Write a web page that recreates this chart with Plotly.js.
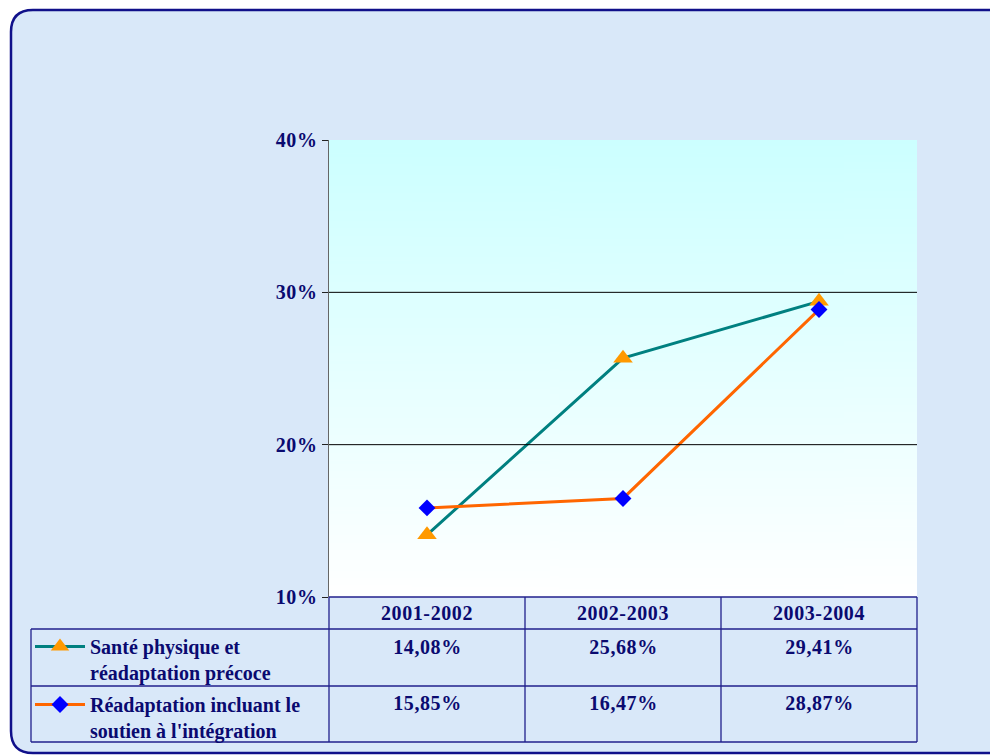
<!DOCTYPE html>
<html><head><meta charset="utf-8">
<script src="https://cdn.plot.ly/plotly-3.0.1.min.js"></script>
<style>html,body{margin:0;padding:0;background:#fff}#chart{width:990px;height:755px}
#chart svg text{letter-spacing:0.6px;word-spacing:2px}
#chart svg .legend text{letter-spacing:0;word-spacing:0}</style>
</head><body><div id="chart"></div>
<script>
const categories = ['2001-2002', '2002-2003', '2003-2004'];
const seriesNames = ['Santé physique et<br>réadaptation précoce', 'Réadaptation incluant le<br>soutien à l\'intégration'];
const santeValues = [14.08, 25.68, 29.41];
const readaptValues = [15.85, 16.47, 28.87];
const yTickVals = [0.10, 0.20, 0.30, 0.40];

const W = 990, H = 755;
const FONT = 'Liberation Serif, Times New Roman, serif';
const NAVY = '#0a0a70';
const LINE = '#20208c';
const FS = 20;
const px = x => x / W;
const py = y => 1 - y / H;

// plot area in pixels
const L = 329, R = 917, T = 140, B = 597;
const row1 = 629, row2 = 686, row3 = 742, tableLeft = 31;

// gradient image for plot background
const cv = document.createElement('canvas');
cv.width = 4; cv.height = 256;
const ctx = cv.getContext('2d');
const g = ctx.createLinearGradient(0, 0, 0, 256);
g.addColorStop(0, '#ccffff'); g.addColorStop(1, '#ffffff');
ctx.fillStyle = g; ctx.fillRect(0, 0, 4, 256);
const gradURL = cv.toDataURL();

const fmt = v => v.toFixed(2).replace('.', ',') + '%';

const traces = [
  {x: categories, y: santeValues.map(v => v / 100), name: seriesNames[0], type: 'scatter', mode: 'lines+markers',
   line: {color: '#008080', width: 3}, marker: {symbol: 'triangle-up', size: 17, color: '#ff9900'}, legendgroup: 'a'},
  {x: categories, y: readaptValues.map(v => v / 100), name: seriesNames[1], type: 'scatter', mode: 'lines+markers',
   line: {color: '#ff6600', width: 3}, marker: {symbol: 'diamond', size: 13, color: '#0000ff'}, legendgroup: 'b'}
];

const shapes = [];
// outer rounded frame
const fx0 = 11, fy0 = 10, fx1 = 1010, fy1 = 753, r = 22;
shapes.push({type: 'path', xref: 'paper', yref: 'paper', layer: 'below',
  path: `M${px(fx0 + r)},${py(fy0)} L${px(fx1 - r)},${py(fy0)} Q${px(fx1)},${py(fy0)} ${px(fx1)},${py(fy0 + r)} L${px(fx1)},${py(fy1 - r)} Q${px(fx1)},${py(fy1)} ${px(fx1 - r)},${py(fy1)} L${px(fx0 + r)},${py(fy1)} Q${px(fx0)},${py(fy1)} ${px(fx0)},${py(fy1 - r)} L${px(fx0)},${py(fy0 + r)} Q${px(fx0)},${py(fy0)} ${px(fx0 + r)},${py(fy0)} Z`,
  fillcolor: '#d9e8f9', line: {color: '#10108a', width: 2.5}});
// grid lines
[0.2, 0.3].forEach(v => shapes.push({type: 'line', xref: 'x domain', yref: 'y', x0: 0, x1: 1, y0: v, y1: v, line: {color: '#000000', width: 1}}));
// table lines
[row1, row2, row3].forEach(y => shapes.push({type: 'line', xref: 'paper', yref: 'paper', x0: px(tableLeft), x1: px(R), y0: py(y), y1: py(y), line: {color: LINE, width: 1.3}}));
[L, 525, 721, R].forEach(x => shapes.push({type: 'line', xref: 'paper', yref: 'paper', x0: px(x), x1: px(x), y0: py(B), y1: py(row3), line: {color: LINE, width: 1.3}}));
shapes.push({type: 'line', xref: 'paper', yref: 'paper', x0: px(tableLeft), x1: px(tableLeft), y0: py(row1), y1: py(row3), line: {color: LINE, width: 1.3}});
shapes.push({type: 'line', xref: 'paper', yref: 'paper', x0: px(L), x1: px(R), y0: py(B), y1: py(B), line: {color: LINE, width: 1.3}});

const annotations = [];
[santeValues, readaptValues].forEach((arr, i) => {
  arr.forEach((v, j) => annotations.push({xref: 'x', yref: 'paper', x: categories[j], y: py(i === 0 ? 647 : 703),
    xanchor: 'center', yanchor: 'middle',
    text: fmt(v), showarrow: false, font: {family: FONT, size: FS, color: NAVY, weight: 'bold'}}));
});

const layout = {
  width: W, height: H,
  margin: {l: 0, r: 0, t: 0, b: 0, autoexpand: false},
  paper_bgcolor: '#ffffff', plot_bgcolor: 'rgba(0,0,0,0)',
  font: {family: FONT, color: NAVY},
  xaxis: {domain: [px(L), px(R)], type: 'category', range: [-0.5, 2.5], showgrid: false, zeroline: false,
    showline: false, ticks: '', tickfont: {family: FONT, size: FS, color: NAVY, weight: 'bold'}, ticklabelstandoff: 2, fixedrange: true},
  yaxis: {domain: [py(B), py(T)], range: [0.10, 0.40], tickvals: yTickVals, tickformat: '.0%', showgrid: false, zeroline: false,
    showline: true, linecolor: '#666666', linewidth: 1.5, ticks: 'outside', ticklen: 6, tickcolor: '#222222',
    tickfont: {family: FONT, size: FS, color: NAVY, weight: 'bold'}, fixedrange: true},
  showlegend: true,
  legend: {xref: 'container', yref: 'container', x: px(30), y: py(627), xanchor: 'left', yanchor: 'top', valign: 'top',
    bgcolor: 'rgba(0,0,0,0)', tracegroupgap: 3, itemwidth: 50,
    font: {family: FONT, size: FS, color: NAVY, weight: 'bold'}},
  images: [{source: gradURL, xref: 'x domain', yref: 'y domain', x: 0, y: 1, sizex: 1, sizey: 1, sizing: 'stretch', layer: 'below', xanchor: 'left', yanchor: 'top'}],
  shapes: shapes,
  annotations: annotations
};

Plotly.newPlot('chart', traces, layout, {displayModeBar: false, staticPlot: true});
</script></body></html>
